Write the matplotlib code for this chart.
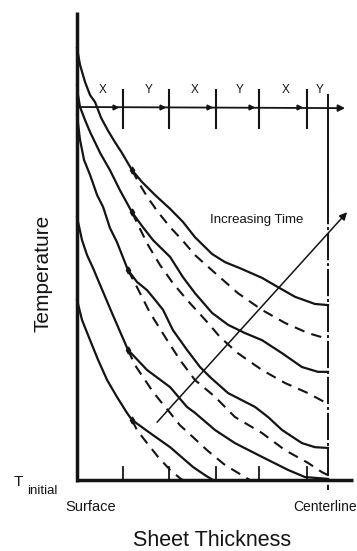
from __future__ import annotations

import matplotlib

matplotlib.use("Agg")

import matplotlib.pyplot as plt
import numpy as np

# thickness runs 0 (surface) .. 10 (centerline); temperature is relative, 0 = T_initial
CENTERLINE = 10.0
SEGMENT_EDGES = [1.83, 3.67, 5.54, 7.25, 9.16, 10.0]
SEGMENT_LABELS = ["X", "Y", "X", "Y", "X", "Y"]
STEP_LEVEL = 100.0

# solid profiles (temperature vs thickness)
S1_X = [0, 0.12, 0.32, 0.52, 0.72, 0.96, 1.24, 1.51, 1.79, 2.19, 2.59, 3.11, 3.71, 4.22, 4.70, 5.38, 5.90, 6.49, 7.37, 8.01, 8.69, 9.48, 10]
S1_T = [115.8, 111.3, 106.7, 103.2, 101.3, 97.1, 93.6, 90.6, 87.7, 83.1, 79.9, 76.4, 72.7, 69.2, 65.1, 60.6, 58.4, 56.8, 54.2, 51.7, 49.1, 47.2, 46.9]
S2_X = [0, 0.04, 0.12, 0.32, 0.52, 0.92, 1.31, 1.71, 2.19, 2.59, 3.03, 3.71, 4.22, 4.70, 5.38, 6.02, 6.69, 7.37, 8.17, 8.96, 9.60, 10]
S2_T = [105.9, 103.2, 100.0, 96.5, 93.3, 87.7, 83.1, 77.7, 71.8, 68.1, 64.3, 59.8, 54.4, 50.1, 44.8, 41.6, 39.4, 37.5, 34.0, 30.3, 29.0, 29.0]
S3_X = [0, 0.12, 0.28, 0.52, 0.80, 1.04, 1.31, 1.59, 2.03, 2.39, 2.79, 3.11, 3.43, 3.82, 4.38, 4.90, 5.30, 6.02, 7.09, 7.61, 8.17, 8.96, 9.48, 10]
S3_T = [97.9, 91.2, 85.8, 81.8, 76.4, 73.2, 67.6, 63.8, 56.3, 53.1, 50.9, 48.3, 45.6, 40.2, 34.9, 30.3, 27.6, 23.3, 19.6, 16.9, 13.4, 9.9, 8.8, 8.6]
S4_X = [0, 0.20, 0.40, 0.64, 0.92, 1.43, 2.03, 2.79, 3.71, 4.38, 4.70, 5.50, 6.29, 7.37, 8.41, 9.08, 10]
S4_T = [70.5, 64.3, 60.3, 56.8, 52.3, 44.2, 34.9, 29.5, 24.9, 19.6, 18.0, 13.4, 9.9, 6.2, 2.7, 0.8, 0.3]
S5_X = [0, 0.20, 0.52, 0.84, 1.20, 1.59, 1.99, 2.19, 2.91, 3.71, 4.62, 5.10, 5.42]
S5_T = [48.3, 42.9, 37.5, 32.2, 26.8, 22.3, 18.0, 16.1, 12.6, 8.8, 3.5, 1.3, 0]

# dashed profiles branching off each solid one
D1_X = [2.19, 2.51, 2.83, 3.23, 3.71, 4.22, 4.70, 5.50, 6.41, 7.37, 8.29, 9.20, 10]
D1_T = [83.1, 79.1, 75.6, 71.8, 67.8, 64.1, 60.3, 55.5, 50.1, 45.6, 42.1, 39.4, 37.8]
D2_X = [2.19, 2.43, 2.83, 3.31, 3.82, 4.38, 5.22, 5.70, 6.41, 7.37, 8.29, 9.20, 10]
D2_T = [71.8, 68.4, 63.0, 57.6, 52.8, 48.3, 42.1, 38.3, 34.0, 29.5, 26.0, 23.3, 20.4]
D3_X = [2.03, 2.39, 2.91, 3.59, 4.10, 4.70, 5.50, 6.29, 7.37, 8.29, 9.20, 9.76, 10]
D3_T = [56.3, 51.7, 44.8, 37.5, 32.2, 26.8, 22.3, 16.9, 12.6, 8.0, 4.6, 2.1, 1.3]
D4_X = [2.03, 2.31, 2.63, 3.03, 3.39, 3.71, 4.10, 4.62, 5.18, 5.90, 6.69, 6.89]
D4_T = [34.9, 30.8, 27.6, 23.6, 20.6, 18.0, 14.7, 11.5, 8.0, 4.0, 0.8, 0]
D5_X = [2.19, 2.39, 2.79, 3.23, 3.71, 4.10, 4.22]
D5_T = [16.1, 13.4, 9.9, 6.2, 2.7, 0.5, 0]

TIME_ARROW_X = [3.19, 10.76]
TIME_ARROW_T = [15.5, 71.8]

INK = "#141414"
FONT = ["Liberation Sans", "DejaVu Sans"]


def draw_frame(ax: plt.Axes) -> None:
    # temperature axis and thickness axis
    ax.plot([0, 0], [-0.6, 125.5], color=INK, lw=2.5, solid_capstyle="butt")
    ax.plot([0, 11.0], [0, 0], color=INK, lw=2.5, solid_capstyle="butt")
    for edge in SEGMENT_EDGES[:-1]:
        ax.plot([edge, edge], [0, 3.5], color=INK, lw=1.3)

    # step axis with X / Y segments
    ax.annotate(
        "",
        xy=(10.68, STEP_LEVEL - 0.3),
        xytext=(0, STEP_LEVEL),
        arrowprops=dict(arrowstyle="-|>", color=INK, lw=1.3, mutation_scale=10, shrinkA=0, shrinkB=0),
    )
    for edge in SEGMENT_EDGES[:-1]:
        ax.plot([edge, edge], [94.4, 104.6], color=INK, lw=1.5)
        ax.plot([edge - 0.3], [STEP_LEVEL], marker=">", ms=3.5, color=INK)
    starts = [0] + SEGMENT_EDGES[:-1]
    for left, right, label in zip(starts, SEGMENT_EDGES, SEGMENT_LABELS):
        ax.text((left + right) / 2 + 0.1, 104.5, label, ha="center", va="center", fontsize=8.5, family=FONT, color=INK)

    # centerline
    ax.plot([CENTERLINE, CENTERLINE], [103.2, 76.0], color=INK, lw=1.4)
    ax.plot([CENTERLINE, CENTERLINE], [76.0, -2.7], color=INK, lw=1.4, dashes=(14, 1.5, 1.5, 1.5))


def draw_profiles(ax: plt.Axes) -> None:
    solids = [(S1_X, S1_T), (S2_X, S2_T), (S3_X, S3_T), (S4_X, S4_T), (S5_X, S5_T)]
    dashed = [(D1_X, D1_T), (D2_X, D2_T), (D3_X, D3_T), (D4_X, D4_T), (D5_X, D5_T)]
    for xs, ts in solids:
        ax.plot(xs, ts, color=INK, lw=1.6, solid_joinstyle="round")
    for xs, ts in dashed:
        ax.plot(xs, ts, color=INK, lw=1.5, dashes=(5, 3.5))
        # small mark where the dashed branch leaves the solid profile
        ax.plot(xs[0], ts[0], marker="d", ms=3.5, color=INK)

    ax.annotate(
        "",
        xy=(TIME_ARROW_X[1], TIME_ARROW_T[1]),
        xytext=(TIME_ARROW_X[0], TIME_ARROW_T[0]),
        arrowprops=dict(arrowstyle="-|>", color=INK, lw=1.1, mutation_scale=11, shrinkA=0, shrinkB=0),
    )


def draw_labels(ax: plt.Axes) -> None:
    ax.text(7.17, 69.7, "Increasing Time", ha="center", va="center", fontsize=9.5, family=FONT, color=INK)
    ax.text(-1.35, 55.5, "Temperature", rotation=90, ha="center", va="center", fontsize=15, family=FONT, color=INK)
    ax.text(5.38, -16.1, "Sheet Thickness", ha="center", va="center", fontsize=15.5, family=FONT, color=INK)
    ax.text(-0.48, -7.2, "Surface", ha="left", va="center", fontsize=10.5, family=FONT, color=INK)
    ax.text(8.6, -7.2, "Centerline", ha="left", va="center", fontsize=10, family=FONT, color=INK)
    ax.text(-2.35, -0.6, "T", ha="center", va="center", fontsize=11, family=FONT, color=INK)
    ax.text(-1.99, -2.9, "initial", ha="left", va="center", fontsize=9.5, family=FONT, color=INK)


def main() -> None:
    figure = plt.figure(figsize=(3.57, 5.51), dpi=100)
    ax = figure.add_axes([0, 0, 1, 1])
    ax.set_xlim(-3.068, 11.155)
    ax.set_ylim(-19.03, 128.69)
    ax.axis("off")

    draw_frame(ax)
    draw_profiles(ax)
    draw_labels(ax)

    figure.savefig("out.png", dpi=100, facecolor="white")
    plt.close(figure)


if __name__ == "__main__":
    main()
